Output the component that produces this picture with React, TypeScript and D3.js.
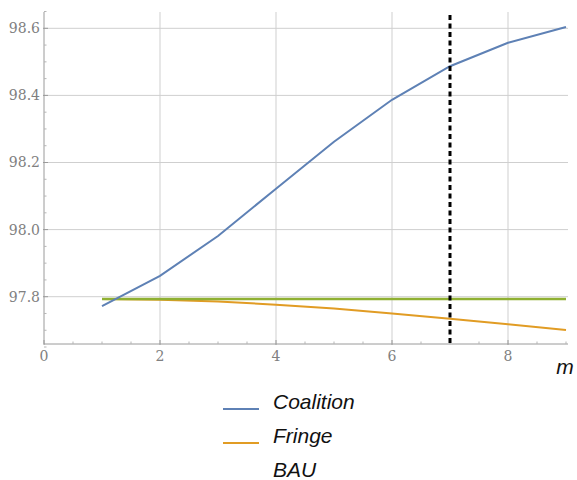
import React from "react";
import * as d3 from "d3";

const periods = [1, 2, 3, 4, 5, 6, 7, 8, 9];
const coalition = [97.772, 97.862, 97.981, 98.122, 98.262, 98.387, 98.487, 98.557, 98.604];
const fringe = [97.793, 97.791, 97.786, 97.776, 97.765, 97.75, 97.734, 97.718, 97.701];
const bau = [97.793, 97.793, 97.793, 97.793, 97.793, 97.793, 97.793, 97.793, 97.793];
const xTicks = [0, 2, 4, 6, 8];
const yTicks = [97.8, 98.0, 98.2, 98.4, 98.6];
const markerPeriod = 7;
const legendItems = [
  { name: "Coalition", color: "#5E81B5", swatch: true },
  { name: "Fringe", color: "#E19C24", swatch: true },
  { name: "BAU", color: "#8FB032", swatch: false },
];

const W = 577;
const H = 480;
const left = 44;
const right = 568;
const top = 12;
const bottom = 344;

export default function App() {
  const x = d3.scaleLinear().domain([0, 9]).range([left, left + 9 * 58]);
  const y = d3.scaleLinear().domain([97.8, 98.6]).range([296.7, 28.3]);

  const line = d3
    .line<number>()
    .x((_, i) => x(periods[i]))
    .y((d) => y(d));

  const xMinor = d3.range(0, 9.01, 0.5).filter((v) => v % 2 !== 0);
  const yMinor = d3.range(97.65, 98.66, 0.05).filter(
    (v) => !yTicks.some((t) => Math.abs(t - v) < 1e-6)
  );

  const series = [
    { data: fringe, color: legendItems[1].color, width: 2 },
    { data: bau, color: legendItems[2].color, width: 2.6 },
    { data: coalition, color: legendItems[0].color, width: 2 },
  ];

  return (
    <div style={{ position: "fixed", left: 0, top: 0 }}>
      <svg width={W} height={H} style={{ display: "block", background: "#fff" }}>
        {/* grid */}
        {yTicks.map((t) => (
          <line key={"gy" + t} x1={left} x2={right} y1={y(t)} y2={y(t)} stroke="#cfcfcf" strokeWidth={1} />
        ))}
        {xTicks.filter((t) => t > 0).map((t) => (
          <line key={"gx" + t} x1={x(t)} x2={x(t)} y1={top} y2={bottom} stroke="#cfcfcf" strokeWidth={1} />
        ))}
        {/* axes */}
        <line x1={left} x2={left} y1={top} y2={bottom} stroke="#9a9a9a" strokeWidth={1} />
        <line x1={left} x2={right} y1={bottom} y2={bottom} stroke="#9a9a9a" strokeWidth={1} />
        {yTicks.map((t) => (
          <line key={"ty" + t} x1={left - 1} x2={left + 4} y1={y(t)} y2={y(t)} stroke="#9a9a9a" />
        ))}
        {yMinor.map((t) => (
          <line key={"my" + t} x1={left} x2={left + 2.5} y1={y(t)} y2={y(t)} stroke="#b5b5b5" />
        ))}
        {xTicks.map((t) => (
          <line key={"tx" + t} x1={x(t)} x2={x(t)} y1={bottom + 1} y2={bottom - 4} stroke="#9a9a9a" />
        ))}
        {xMinor.map((t) => (
          <line key={"mx" + t} x1={x(t)} x2={x(t)} y1={bottom} y2={bottom - 2.5} stroke="#b5b5b5" />
        ))}
        {/* tick labels */}
        {yTicks.map((t) => (
          <text
            key={"ly" + t}
            x={left - 4}
            y={y(t)}
            dy="0.35em"
            textAnchor="end"
            fontFamily="DejaVu Serif"
            fontSize={14}
            fill="#808080"
          >
            {d3.format(".1f")(t)}
          </text>
        ))}
        {xTicks.map((t) => (
          <text
            key={"lx" + t}
            x={x(t)}
            y={bottom + 17}
            textAnchor="middle"
            fontFamily="DejaVu Serif"
            fontSize={14}
            fill="#808080"
          >
            {t}
          </text>
        ))}
        <text x={565} y={374} textAnchor="middle" fontFamily="Liberation Sans" fontStyle="italic" fontSize={21} fill="#111">
          m
        </text>
        {/* series */}
        {series.map((s, i) => (
          <path key={i} d={line(s.data) || ""} fill="none" stroke={s.color} strokeWidth={s.width} />
        ))}
        {/* marker period */}
        <line
          x1={x(markerPeriod)}
          x2={x(markerPeriod)}
          y1={15}
          y2={bottom}
          stroke="#000"
          strokeWidth={3}
          strokeDasharray="5,3.5"
        />
        {/* legend */}
        {legendItems.map((item, i) => {
          const cy = 402 + i * 34;
          return (
            <g key={item.name}>
              {item.swatch && (
                <line x1={223} x2={259} y1={cy + 7} y2={cy + 7} stroke={item.color} strokeWidth={2} />
              )}
              <text
                x={273}
                y={cy}
                dy="0.35em"
                fontFamily="Liberation Sans"
                fontStyle="italic"
                fontSize={21}
                fill="#111"
              >
                {item.name}
              </text>
            </g>
          );
        })}
      </svg>
    </div>
  );
}
